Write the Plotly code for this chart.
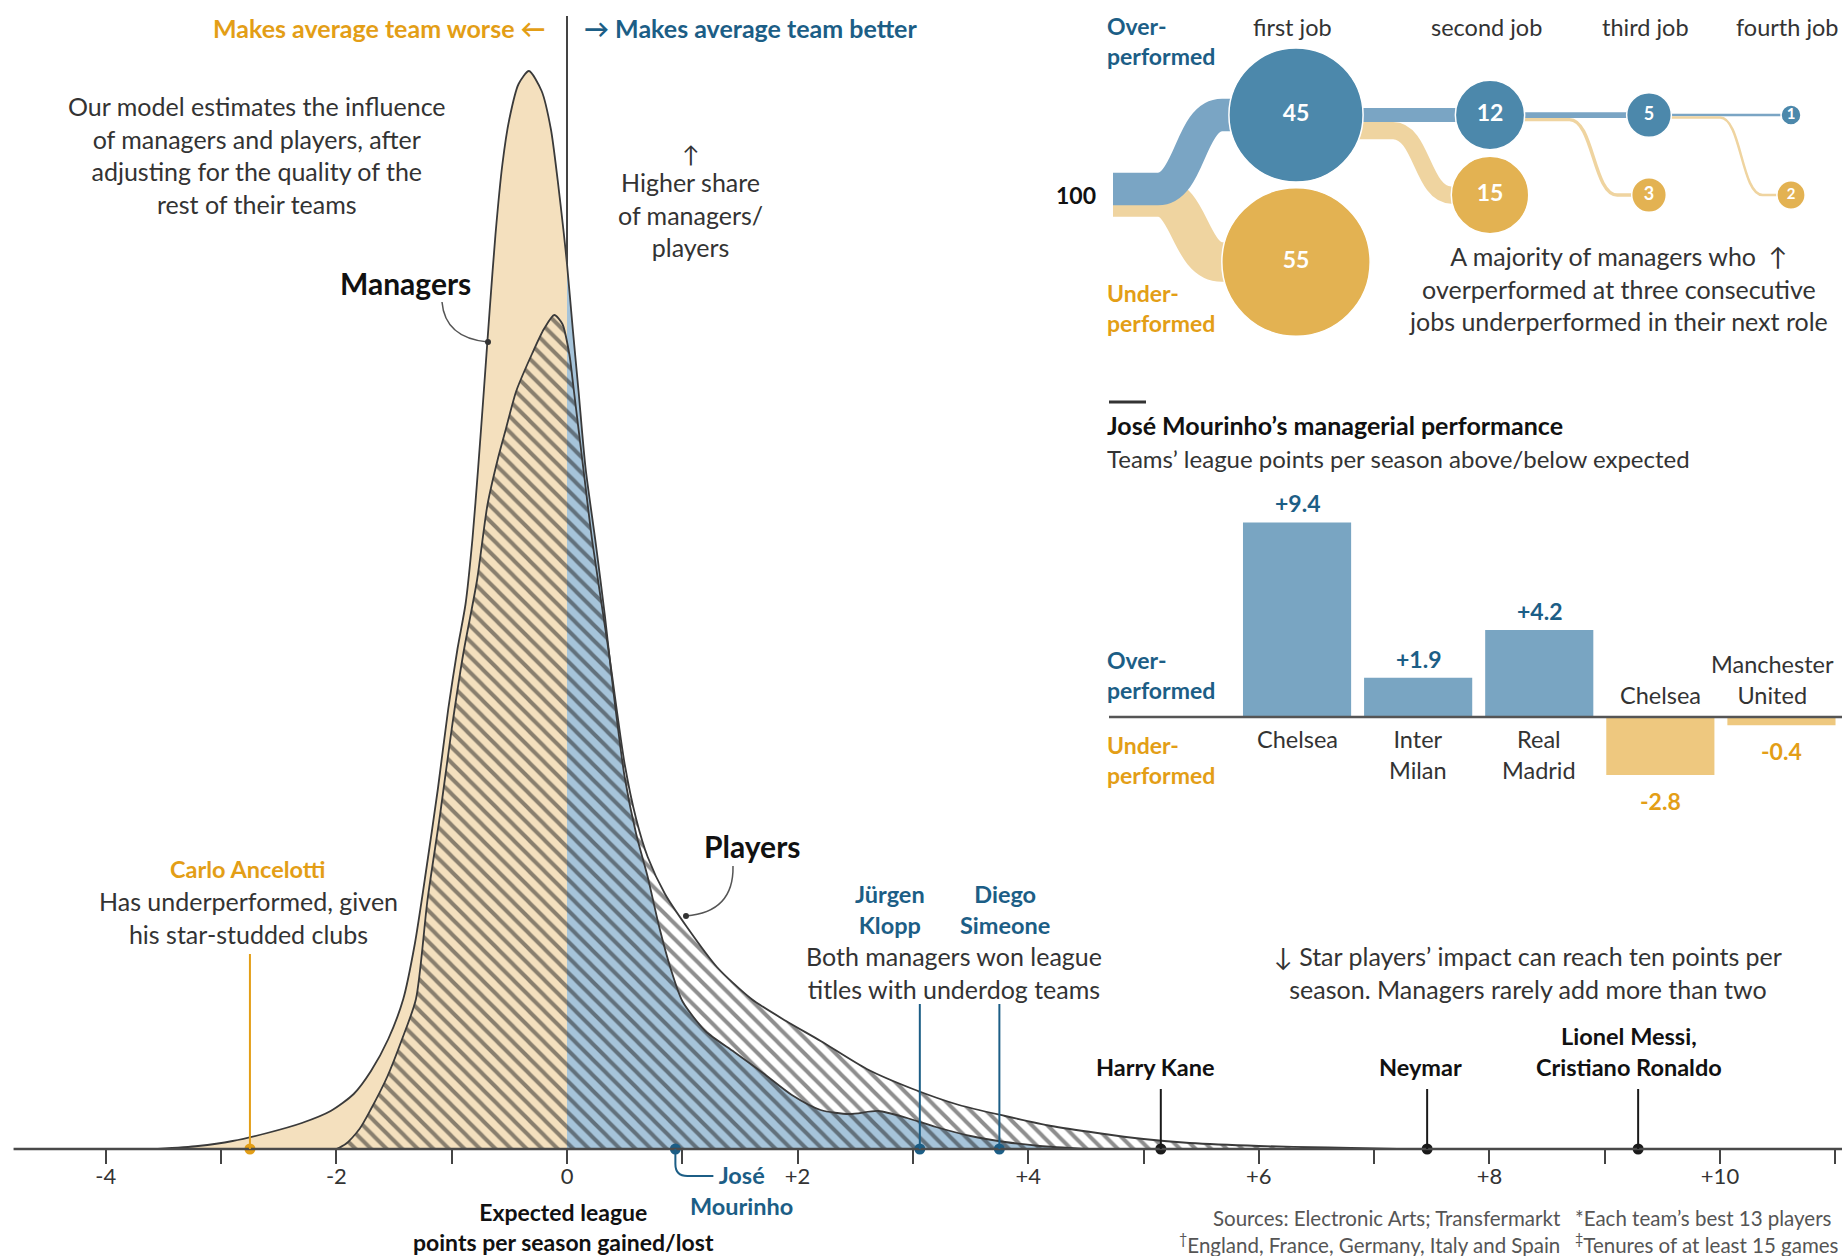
import numpy as np
import plotly.graph_objects as go

W, H = 1842, 1256
FONT = "Lato, 'Open Sans', Roboto, sans-serif"
DARK = "#333333"
ORANGE = "#E39E16"
BLUE = "#1C5E86"
BEIGE = "#F4E0BE"
LBLUE = "#A6C4DA"

# ---------------- density data (x = league points per season, y = relative density) -------------
mgr_x = [-3.55, -3.2, -2.9, -2.6, -2.3, -2.05, -1.85, -1.7, -1.55, -1.42, -1.32, -1.22, -1.12,
         -1.03, -0.95, -0.88, -0.82, -0.77, -0.72, -0.67, -0.62, -0.56, -0.5, -0.42, -0.33,
         -0.22, -0.14, -0.08, -0.03, 0.0, 0.05, 0.10, 0.16, 0.25, 0.33, 0.4, 0.5, 0.6, 0.7,
         0.8, 0.9, 1.0, 1.2, 1.45, 1.7, 1.95, 2.2, 2.45, 2.7, 2.95, 3.2, 3.5, 3.8, 4.1, 4.5]
mgr_y = [0.0, 0.003, 0.008, 0.016, 0.026, 0.038, 0.055, 0.078, 0.110, 0.150, 0.205, 0.280, 0.360,
         0.440, 0.500, 0.545, 0.610, 0.682, 0.760, 0.840, 0.915, 0.985, 1.030, 1.065, 1.078,
         1.058, 1.020, 0.968, 0.918, 0.885, 0.820, 0.758, 0.682, 0.605, 0.532, 0.460, 0.372,
         0.315, 0.272, 0.222, 0.180, 0.148, 0.118, 0.097, 0.076, 0.054, 0.039, 0.035, 0.038,
         0.031, 0.022, 0.013, 0.007, 0.003, 0.0]

ply_x = [-2.0, -1.92, -1.8, -1.7, -1.56, -1.43, -1.31, -1.21, -1.1, -1.0, -0.9, -0.78, -0.69,
         -0.6, -0.53, -0.44, -0.3, -0.2, -0.11, -0.04, 0.02, 0.06, 0.14, 0.22, 0.36, 0.5, 0.6,
         0.7, 0.85, 1.04, 1.3, 1.6, 1.9, 2.2, 2.6, 3.0, 3.4, 3.8, 4.2, 4.6, 5.0, 5.4, 6.0, 6.6, 7.2]
ply_y = [0.0, 0.005, 0.020, 0.040, 0.072, 0.110, 0.150, 0.249, 0.335, 0.420, 0.495, 0.569, 0.644,
         0.690, 0.720, 0.758, 0.796, 0.820, 0.834, 0.825, 0.795, 0.758, 0.682, 0.607, 0.499, 0.385,
         0.330, 0.292, 0.255, 0.222, 0.182, 0.150, 0.128, 0.108, 0.080, 0.060, 0.044, 0.033,
         0.023, 0.016, 0.010, 0.006, 0.003, 0.0015, 0.0]

# ---------------- highlighted managers / players ----------------
people_x = [-2.75, 0.94, 3.06, 3.75, 5.15, 7.46, 9.29]
people_group = ["under", "over", "over", "over", "player", "player", "player"]

major_ticks = [-4, -2, 0, 2, 4, 6, 8, 10]
major_text = ["-4", "-2", "0", "+2", "+4", "+6", "+8", "+10"]
minor_ticks = [-3, -1, 1, 3, 5, 7, 9, 11]

# ---------------- career flow ----------------
job_labels = ["first job", "second job", "third job", "fourth job"]
over_counts = [45, 12, 5, 1]
under_counts = [55, 15, 3, 2]
start_count = 100

# ---------------- Mourinho bars ----------------
clubs = ["Chelsea", "Inter<br>Milan", "Real<br>Madrid", "Chelsea", "Manchester<br>United"]
club_points = [9.4, 1.9, 4.2, -2.8, -0.4]

# ================= layout constants (pixels) =================
X0PX, UNIT, BASE = 567.0, 115.3, 1149.0


def vx(v):
    return X0PX + UNIT * v


GCOL = {"under": ORANGE, "over": BLUE, "player": "#1a1a1a"}

fig = go.Figure()

mx = np.array(mgr_x); my = np.array(mgr_y)
left = mx <= 0
right = mx >= 0
fig.add_trace(go.Scatter(x=mx[left], y=my[left], mode="lines", line=dict(width=0, shape="spline", smoothing=0.7),
                         fill="tozeroy", fillcolor=BEIGE, hoverinfo="skip"))
fig.add_trace(go.Scatter(x=mx[right], y=my[right], mode="lines", line=dict(width=0, shape="spline", smoothing=0.7),
                         fill="tozeroy", fillcolor=LBLUE, hoverinfo="skip"))
fig.add_trace(go.Scatter(x=ply_x, y=ply_y, mode="lines", line=dict(width=0, shape="spline", smoothing=0.7),
                         fill="tozeroy", fillcolor="rgba(0,0,0,0)",
                         fillpattern=dict(shape="\\", size=11, solidity=0.36, fgcolor="#1e1e1e",
                                          bgcolor="rgba(0,0,0,0)", fillmode="overlay"),
                         hoverinfo="skip"))
fig.add_trace(go.Scatter(x=mgr_x, y=mgr_y, mode="lines",
                         line=dict(width=1.8, color="#3a3a3a", shape="spline", smoothing=0.7), hoverinfo="skip"))
fig.add_trace(go.Scatter(x=ply_x, y=ply_y, mode="lines",
                         line=dict(width=1.8, color="#3a3a3a", shape="spline", smoothing=0.7), hoverinfo="skip"))

shapes = []
annotations = []


def ann(text, x, y, size=25, color=DARK, bold=False, xanchor="center", yanchor="middle", align="center",
        xref="x2", yref="y2", yshift=0, xshift=0):
    if bold:
        text = "<b>%s</b>" % text
    annotations.append(dict(text=text, x=x, y=y, xref=xref, yref=yref, showarrow=False,
                            font=dict(size=size, color=color, family=FONT), xanchor=xanchor,
                            yanchor=yanchor, align=align, yshift=yshift, xshift=xshift))


# baseline
shapes.append(dict(type="line", xref="x2", yref="y2", x0=vx(-4.8), x1=W, y0=BASE, y1=BASE,
                   line=dict(color="#4a4a4a", width=2.5)))
# zero line
zero_val = mgr_y[mgr_x.index(0.0)]
shapes.append(dict(type="line", xref="x", yref="y", x0=0, x1=0, y0=zero_val, y1=(BASE - 16) / 1000,
                   line=dict(color="#444", width=2)))

# leader lines
leader_top = [954, None, 1004, 1004, 1089, 1089, 1089]
for v, g, top in zip(people_x, people_group, leader_top):
    if top is None:
        continue
    shapes.append(dict(type="line", xref="x", yref="y", x0=v, x1=v, y0=0, y1=(BASE - top) / 1000,
                       line=dict(color=GCOL[g], width=2)))
# Mourinho connector
xm = vx(people_x[1])
shapes.append(dict(type="path", xref="x2", yref="y2",
                   path="M %f,%f L %f,%f Q %f,%f %f,%f L %f,%f" % (xm, BASE, xm, BASE + 15, xm, BASE + 27,
                                                                    xm + 12, BASE + 27, xm + 38, BASE + 27),
                   line=dict(color=BLUE, width=2)))

fig.add_trace(go.Scatter(x=people_x, y=[0] * len(people_x), mode="markers", cliponaxis=False,
                         marker=dict(size=11, color=[GCOL[g] for g in people_group]), hoverinfo="skip"))

# pointers
shapes.append(dict(type="path", xref="x2", yref="y2", path="M 442,302 Q 445,338 488,342",
                   line=dict(color="#555", width=1.5)))
shapes.append(dict(type="circle", xref="x2", yref="y2", x0=485, x1=491, y0=339, y1=345,
                   fillcolor="#333", line=dict(width=0)))
shapes.append(dict(type="path", xref="x2", yref="y2", path="M 733,866 Q 734,912 686,916",
                   line=dict(color="#555", width=1.5)))
shapes.append(dict(type="circle", xref="x2", yref="y2", x0=683, x1=689, y0=913, y1=919,
                   fillcolor="#333", line=dict(width=0)))

# ---------- main chart text ----------
ann("Makes average team worse ←", 548, 28, size=25, color=ORANGE, bold=True, xanchor="right")
ann("→ Makes average team better", 582, 28, size=25, color=BLUE, bold=True, xanchor="left")
ann("Our model estimates the influence<br>of managers and players, after<br>adjusting for the quality of the<br>rest of their teams",
    257, 155, size=25)
ann("↑", 690, 154, size=23)
ann("Higher share<br>of managers/<br>players", 690, 214, size=25)
ann("Managers", 405, 283, size=30, color="#111", bold=True)
ann("Players", 752, 846, size=30, color="#111", bold=True)
ann("Carlo Ancelotti", 248, 869, size=23.5, color=ORANGE, bold=True)
ann("Has underperformed, given<br>his star-studded clubs", 248, 917, size=25)
ann("Jürgen<br>Klopp", 890, 909, size=23.5, color=BLUE, bold=True)
ann("Diego<br>Simeone", 1005, 909, size=23.5, color=BLUE, bold=True)
ann("Both managers won league<br>titles with underdog teams", 954, 972, size=25)
ann("Harry Kane", 1155, 1067, size=23.5, color="#111", bold=True)
ann("Neymar", 1420, 1067, size=23.5, color="#111", bold=True)
ann("Lionel Messi,<br>Cristiano Ronaldo", 1629, 1051, size=23.5, color="#111", bold=True)
ann("↓ Star players’ impact can reach ten points per<br>season. Managers rarely add more than two",
    1528, 972, size=25)
ann("José<br>Mourinho", 741, 1190, size=23.5, color=BLUE, bold=True)
ann("Expected league<br>points per season gained/lost", 563, 1227, size=23, color="#111", bold=True)
ann("Sources: Electronic Arts; Transfermarkt<br><sup>†</sup>England, France, Germany, Italy and Spain",
    1563, 1231, size=20.5, color="#555", xanchor="right", align="right")
ann("*Each team’s best 13 players<br><sup>‡</sup>Tenures of at least 15 games",
    1841, 1231, size=20.5, color="#555", xanchor="right", align="left")

# ---------- career flow ----------
job_px = [1296, 1490, 1649, 1791]
over_py = [115, 115, 115, 115]
under_py = [262, 195, 195, 195]
start_px, start_py = 1113, 195
RIB_BLUE, RIB_OR = "#7AA5C4", "#EFD4A0"
CIR_BLUE, CIR_OR = "#4C88AB", "#E3B252"


def ribbon(x0, y0, x1, y1, w, color, b0=None, b1=None):
    if b0 is None or y0 == y1:
        path = "M %f,%f L %f,%f" % (x0, y0, x1, y1)
    else:
        bm = (b0 + b1) / 2
        path = "M %f,%f L %f,%f C %f,%f %f,%f %f,%f L %f,%f" % (x0, y0, b0, y0, bm, y0, bm, y1, b1, y1, x1, y1)
    shapes.append(dict(type="path", xref="x2", yref="y2", path=path, layer="below",
                       line=dict(color=color, width=w)))


K0 = 0.72
ribbon(start_px, start_py + 2, job_px[0], under_py[0], K0 * under_counts[0], RIB_OR, 1158, 1222)
ribbon(start_px, start_py - 6, job_px[0], over_py[0], K0 * over_counts[0], RIB_BLUE, 1158, 1222)
K1 = 1.15
for i in range(1, 4):
    wo = max(K1 * over_counts[i], 2.5)
    wu = max(K1 * under_counts[i], 2.5)
    xa, xb = job_px[i - 1], job_px[i]
    ribbon(xa, over_py[i - 1], xb, over_py[i], wo, RIB_BLUE)
    ystart = over_py[i - 1] + wo / 2 + wu / 2
    gap = xb - xa
    ribbon(xa, ystart, xb, under_py[i], wu, RIB_OR, xa + 0.5 * gap, xa + 0.8 * gap)

circ_x = job_px + job_px
circ_y = over_py + under_py
circ_v = over_counts + under_counts
circ_c = [CIR_BLUE] * 4 + [CIR_OR] * 4
fig.add_trace(go.Scatter(x=circ_x, y=circ_y, xaxis="x2", yaxis="y2", mode="markers+text", cliponaxis=False,
                         marker=dict(size=[20 * np.sqrt(v) for v in circ_v], color=circ_c,
                                     line=dict(color="white", width=1.5), opacity=1),
                         text=["<b>%d</b>" % v for v in circ_v], textposition="middle center",
                         textfont=dict(color="white", family=FONT,
                                       size=[23 if v >= 10 else (18 if v >= 3 else 15) for v in circ_v]),
                         hoverinfo="skip"))

ann("Over-<br>performed", 1105, 41, size=23, color=BLUE, bold=True, xanchor="left", align="left")
for lab, x in zip(job_labels, [1292, 1486, 1645, 1787]):
    ann(lab, x, 27, size=23.5)
ann("%d" % start_count, 1098, 195, size=23, color="#111", bold=True, xanchor="right")
ann("Under-<br>performed", 1105, 308, size=23, color=ORANGE, bold=True, xanchor="left", align="left")
ann("A majority of managers who  ↑<br>overperformed at three consecutive<br>jobs underperformed in their next role",
    1618, 288, size=25)

# ---------- Mourinho bars ----------
fig.add_trace(go.Bar(x=list(range(len(clubs))), y=club_points, xaxis="x3", yaxis="y3",
                     marker=dict(color=["#79A5C2" if v > 0 else "#EEC87F" for v in club_points], line=dict(width=0)),
                     hoverinfo="skip"))
shapes.append(dict(type="line", xref="x2", yref="y3", x0=1109, x1=W, y0=0, y1=0,
                   line=dict(color="#555", width=2.5)))
shapes.append(dict(type="line", xref="x2", yref="y2", x0=1109, x1=1146, y0=402, y1=402,
                   line=dict(color="#333", width=3)))
ann("José Mourinho’s managerial performance", 1105, 425, size=25, color="#111", bold=True, xanchor="left")
ann("Teams’ league points per season above/below expected", 1105, 458, size=24, xanchor="left")
ann("Over-<br>performed", 1105, 675, size=23, color=BLUE, bold=True, xanchor="left", align="left")
ann("Under-<br>performed", 1105, 760, size=23, color=ORANGE, bold=True, xanchor="left", align="left")
for i, (c, v) in enumerate(zip(clubs, club_points)):
    lab = ("+%.1f" % v) if v > 0 else ("%.1f" % v)
    xs = -9 if i == len(clubs) - 1 else 0
    if v > 0:
        ann(lab, i, v, size=23, color=BLUE, bold=True, yanchor="bottom", xref="x3", yref="y3", yshift=3)
        ann(c, i, 0, size=23.5, yanchor="top", xref="x3", yref="y3", yshift=-6)
    else:
        ann(lab, i, v, size=23, color=ORANGE, bold=True, yanchor="top", xref="x3", yref="y3", yshift=-10)
        ann(c, i, 0, size=23.5, yanchor="bottom", xref="x3", yref="y3", yshift=6, xshift=xs)

fig.update_layout(
    width=W, height=H, margin=dict(l=0, r=0, t=0, b=0),
    paper_bgcolor="white", plot_bgcolor="rgba(0,0,0,0)", showlegend=False,
    font=dict(family=FONT, color=DARK),
    xaxis=dict(domain=[0, 1], range=[-X0PX / UNIT, (W - X0PX) / UNIT],
               tickmode="array", tickvals=major_ticks, ticktext=major_text,
               ticks="outside", ticklen=14, tickwidth=2, tickcolor="#444", showgrid=False, zeroline=False,
               showline=False, tickfont=dict(size=22, color=DARK, family=FONT), anchor="y",
               ticklabelstandoff=-6,
               minor=dict(tickvals=minor_ticks, ticks="outside", ticklen=14, tickwidth=2, tickcolor="#444",
                          showgrid=False)),
    yaxis=dict(domain=[1 - BASE / H, 1], range=[0, BASE / 1000], visible=False, anchor="x"),
    xaxis2=dict(domain=[0, 1], range=[0, W], visible=False, anchor="y2"),
    yaxis2=dict(domain=[0, 1], range=[H, 0], visible=False, anchor="x2"),
    xaxis3=dict(domain=[1236.5 / W, 1], range=[-0.5, 4.5], visible=False, anchor="y3"),
    yaxis3=dict(domain=[(H - 800) / H, (H - 500) / H], range=[-(800 - 717) / 20.7, (717 - 500) / 20.7],
                visible=False, anchor="x3"),
    bargap=0.107,
    shapes=shapes, annotations=annotations,
)

fig.write_html("out.html", config={"displayModeBar": False, "staticPlot": True},
               post_script="document.body.style.margin='0px';document.body.style.overflow='hidden';")
